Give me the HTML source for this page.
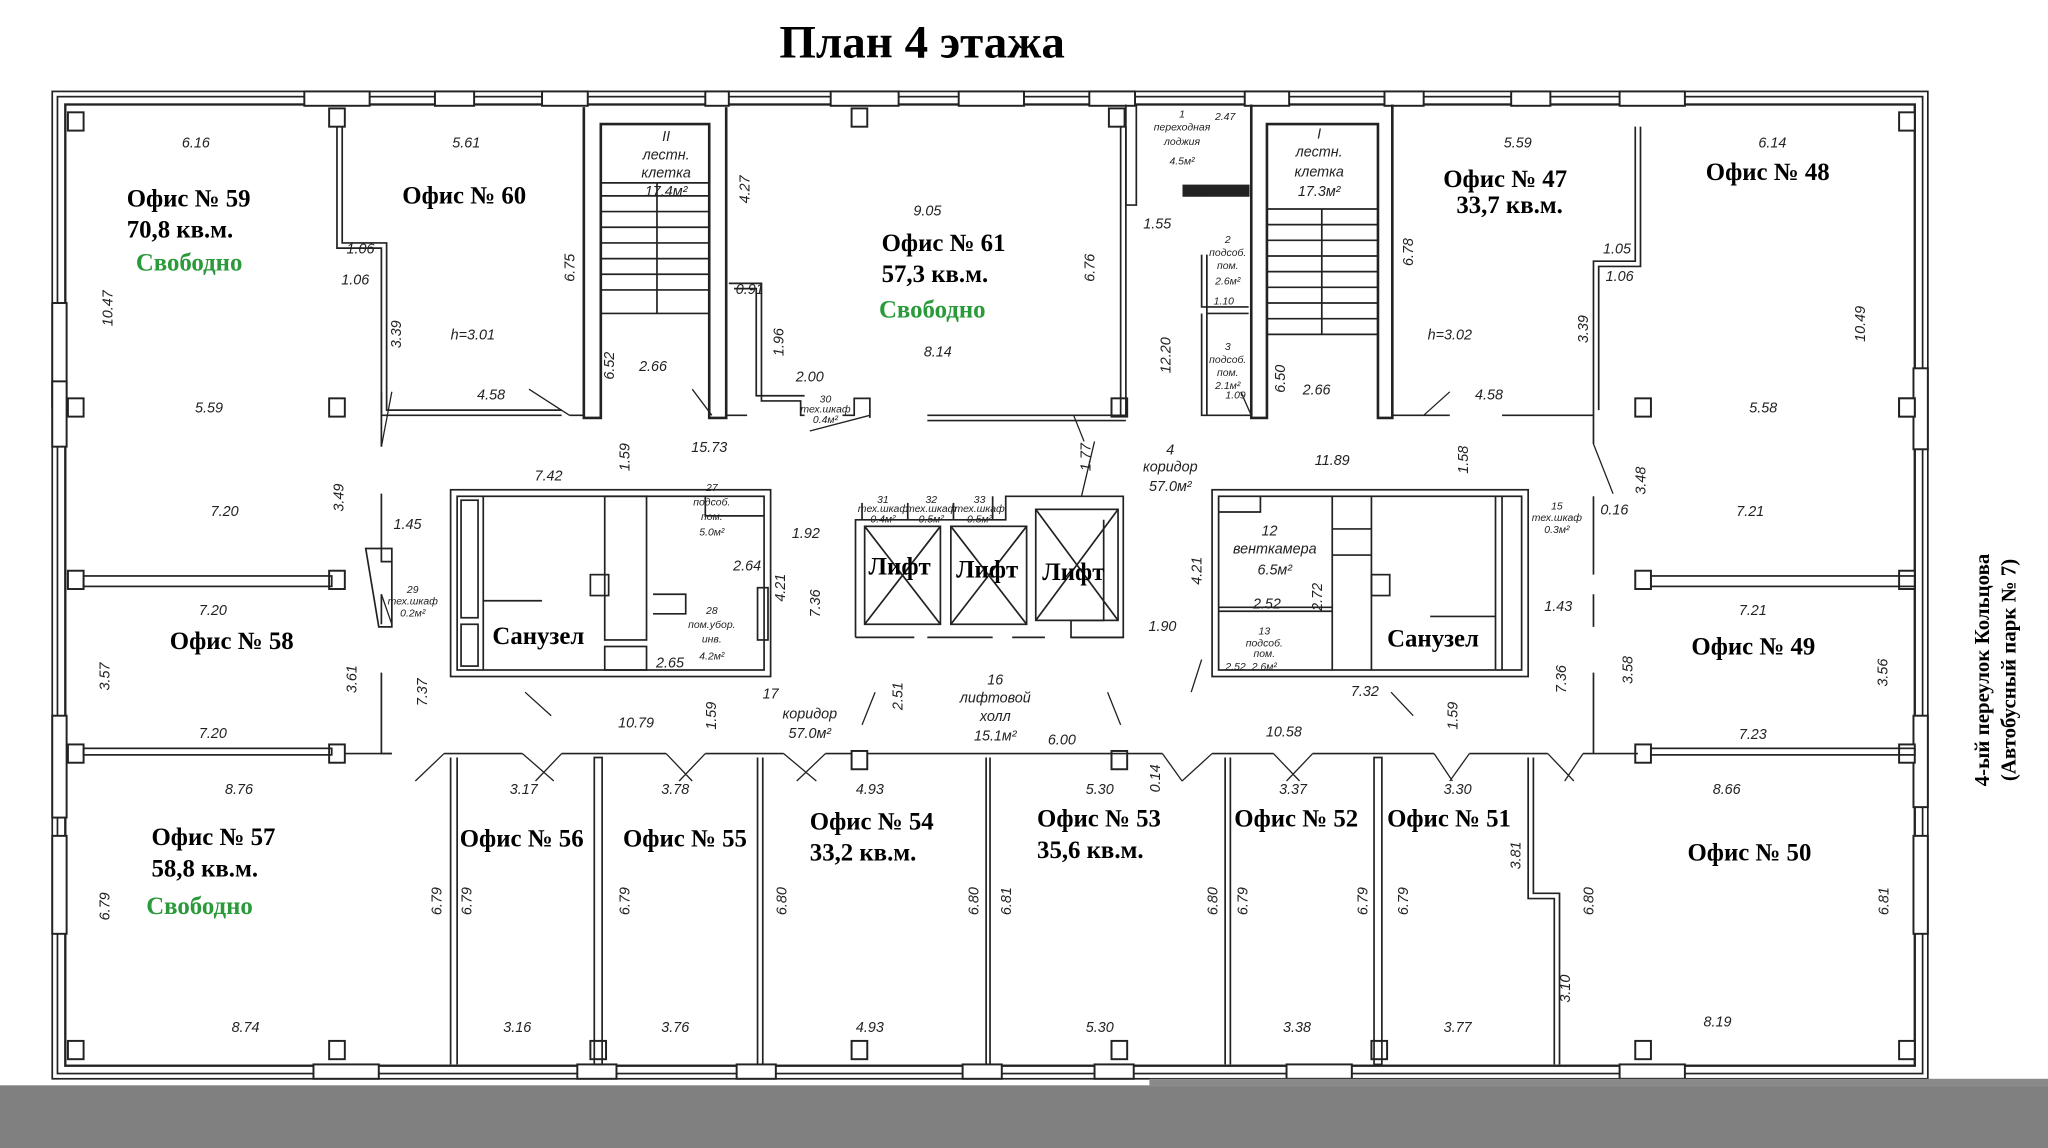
<!DOCTYPE html>
<html><head><meta charset="utf-8"><style>
html,body{margin:0;padding:0;background:#fff;width:2048px;height:1148px;overflow:hidden}
svg{display:block}
.t{font-family:"Liberation Serif","Noto Serif CJK SC",serif;font-weight:bold;fill:#000}
.g{font-family:"Liberation Serif","Noto Serif CJK SC",serif;font-weight:bold;fill:#2a9a3a}
.d{font-family:"Liberation Sans","DejaVu Sans",sans-serif;font-style:italic;fill:#222;font-size:11px}
.s{font-family:"Liberation Sans","DejaVu Sans",sans-serif;font-style:italic;fill:#222;font-size:8px}
</style></head><body>
<svg width="2048" height="1148" viewBox="0 0 1568 879" preserveAspectRatio="none" xmlns="http://www.w3.org/2000/svg">
<rect width="1568" height="879" fill="#fff"/>
<text class="t" x="706" y="44" font-size="36" text-anchor="middle">План 4 этажа</text>
<g fill="none" stroke="#222" stroke-width="1.3">
<!-- outer frame -->
<rect x="40" y="70" width="1436" height="756"/>
<rect x="44" y="74" width="1428" height="748"/>
<rect x="50" y="80" width="1416" height="736" stroke-width="1.8"/>
<!-- window blocks top -->
<g fill="#fff" stroke-width="1.5">
<rect x="233" y="70" width="50" height="11"/><rect x="333" y="70" width="30" height="11"/><rect x="415" y="70" width="35" height="11"/>
<rect x="540" y="70" width="18" height="11"/><rect x="636" y="70" width="52" height="11"/><rect x="734" y="70" width="50" height="11"/><rect x="834" y="70" width="35" height="11"/>
<rect x="953" y="70" width="34" height="11"/><rect x="1060" y="70" width="30" height="11"/><rect x="1157" y="70" width="30" height="11"/><rect x="1240" y="70" width="50" height="11"/>
<rect x="240" y="815" width="50" height="11"/><rect x="442" y="815" width="30" height="11"/><rect x="564" y="815" width="30" height="11"/><rect x="737" y="815" width="30" height="11"/><rect x="838" y="815" width="30" height="11"/><rect x="985" y="815" width="50" height="11"/><rect x="1240" y="815" width="50" height="11"/>
<rect x="40" y="232" width="11" height="80"/><rect x="40" y="548" width="11" height="78"/><rect x="40" y="640" width="11" height="75"/><rect x="40" y="292" width="11" height="50"/>
<rect x="1465" y="282" width="11" height="62"/><rect x="1465" y="548" width="11" height="70"/><rect x="1465" y="640" width="11" height="75"/>
<!-- columns -->
<rect x="52" y="86" width="12" height="14"/><rect x="252" y="83" width="12" height="14"/><rect x="652" y="83" width="12" height="14"/><rect x="1454" y="86" width="12" height="14"/>
<rect x="52" y="305" width="12" height="14"/><rect x="252" y="305" width="12" height="14"/><rect x="1454" y="305" width="12" height="14"/><rect x="1252" y="305" width="12" height="14"/>
<rect x="52" y="437" width="12" height="14"/><rect x="252" y="437" width="12" height="14"/><rect x="1252" y="437" width="12" height="14"/><rect x="1454" y="437" width="12" height="14"/>
<rect x="52" y="570" width="12" height="14"/><rect x="252" y="570" width="12" height="14"/><rect x="652" y="575" width="12" height="14"/><rect x="851" y="575" width="12" height="14"/><rect x="1252" y="570" width="12" height="14"/><rect x="1454" y="570" width="12" height="14"/>
<rect x="52" y="797" width="12" height="14"/><rect x="252" y="797" width="12" height="14"/><rect x="452" y="797" width="12" height="14"/><rect x="652" y="797" width="12" height="14"/><rect x="851" y="797" width="12" height="14"/><rect x="1050" y="797" width="12" height="14"/><rect x="1252" y="797" width="12" height="14"/><rect x="1454" y="797" width="12" height="14"/>
<rect x="851" y="305" width="12" height="14"/><rect x="849" y="83" width="12" height="14"/><rect x="1454" y="305" width="12" height="14"/>
</g>
<!-- left offices -->
<path d="M258 97 V190 H292 V318 H430"/><path d="M262 97 V186 H296 V314 H430"/>
<path d="M292 342 V300"/><path d="M292 378 V430 H300"/><path d="M292 455 V478"/><path d="M292 515 V577 H300"/>
<rect x="64" y="441" width="190" height="8"/><rect x="64" y="573" width="190" height="5"/><path d="M264 577 H300"/>
<path d="M280 420 H300 V480 H290 Z"/>
<!-- stair left -->
<path d="M447 82 V320 H460 V95 H543 V320 H556 V82" stroke-width="2"/>
<path d="M460 140 H543 M460 150 H543 M460 162 H543 M460 174 H543 M460 186 H543 M460 198 H543 M460 210 H543 M460 222 H543 M460 240 H543 M503 140 V240"/>
<path d="M436 318 H447 M556 318 H572"/>
<!-- office 61 -->
<path d="M558 217 H583 V307 H613 V318 H616"/><path d="M562 221 H579 V303 H616"/>
<path d="M645 318 H654 V305 H666 V320"/>
<path d="M710 318 H862 M710 322 H862"/><path d="M858 97 V318 M862 97 V318"/>
<path d="M862 80 V157 H870 V80"/>
<!-- right stair -->
<path d="M958 80 V320 H970 V95 H1055 V320 H1066 V80" stroke-width="2"/>
<path d="M970 160 H1055 M970 172 H1055 M970 184 H1055 M970 196 H1055 M970 208 H1055 M970 220 H1055 M970 232 H1055 M970 244 H1055 M970 256 H1055 M1012 160 V256"/>
<rect x="906" y="142" width="50" height="8" fill="#222"/>
<path d="M920 195 V235 H956 M924 195 V318 M920 240 V318 H958"/><path d="M924 240 H956"/>
<!-- right offices -->
<path d="M1066 318 H1110 M1150 318 H1220 V340"/><path d="M1220 380 V440"/><path d="M1220 455 V480"/><path d="M1220 515 V577"/>
<path d="M1252 97 V200 H1220 V318"/><path d="M1256 97 V204 H1224 V314"/>
<rect x="1264" y="441" width="202" height="8"/><rect x="1264" y="573" width="202" height="5"/><path d="M1212 577 H1254"/>
<!-- bottom wall row -->
<path d="M340 577 H400 M430 577 H510 M540 577 H600 M632 577 H652 M664 577 H890 M928 577 H975 M1005 577 H1098 M1125 577 H1185"/>
<path d="M345 580 V815 M350 580 V815"/><rect x="455" y="580" width="6" height="235"/><path d="M580 580 V815 M584 580 V815"/>
<path d="M755 580 V815 M758 580 V815"/><path d="M938 580 V815 M942 580 V815"/><rect x="1052" y="580" width="6" height="235"/>
<path d="M1170 580 V688 H1190 V815 M1174 580 V684 H1194 V815"/>
<!-- sanuzel left -->
<rect x="345" y="375" width="245" height="143"/><rect x="350" y="380" width="235" height="133"/>
<rect x="353" y="383" width="13" height="90"/><rect x="353" y="478" width="13" height="32"/><path d="M370 380 V513"/><path d="M370 460 H415"/>
<rect x="463" y="380" width="32" height="110"/><rect x="463" y="495" width="32" height="18"/><rect x="452" y="440" width="14" height="16"/>
<path d="M540 380 V395 H585 M500 455 H525 V470 H500"/>
<rect x="580" y="450" width="8" height="40"/>
<!-- lifts -->
<path d="M655 488 V398 H770 V380 H860 V488 H820 V475 H845 V398"/>
<rect x="662" y="403" width="58" height="75"/><rect x="728" y="403" width="58" height="75"/><rect x="793" y="390" width="63" height="85"/>
<path d="M662 403 L720 478 M720 403 L662 478 M728 403 L786 478 M786 403 L728 478 M793 390 L856 475 M856 390 L793 475"/>
<path d="M655 488 H700 M710 488 H760 M775 488 H800 M820 488 H860"/>
<path d="M660 385 V398 M695 385 V398 M730 385 V398 M760 380 V398"/>
<!-- right block -->
<rect x="928" y="375" width="242" height="143"/><rect x="933" y="380" width="232" height="133"/>
<path d="M933 392 H965 V380 M1020 380 V513 M1050 380 V513 M1020 405 H1050 M1020 425 H1050 M1145 380 V513 M1150 380 V513 M1095 472 H1145"/>
<path d="M933 468 H1020 M933 465 H1020"/><rect x="1050" y="440" width="14" height="16"/>
<!-- door swings -->
<path d="M405 298 L436 318 M530 298 L545 318 M620 330 L666 318 M830 338 L822 318 M950 300 L958 318 M1110 300 L1090 318 M1220 340 L1235 378 M292 342 L300 300 M292 455 L300 478 M402 530 L422 548 M828 380 L838 338 M660 555 L670 530 M858 555 L848 530 M912 530 L920 505 M1065 530 L1082 548 M318 598 L340 577 M400 577 L424 598 M430 577 L410 598 M510 577 L530 598 M540 577 L520 598 M600 577 L625 598 M632 577 L610 598 M890 577 L905 598 M928 577 L905 598 M975 577 L995 598 M1005 577 L985 598 M1098 577 L1112 598 M1125 577 L1110 598 M1185 577 L1205 598 M1212 577 L1198 598" stroke-width="1"/>
</g>
<!-- dimensions -->
<g class="d" text-anchor="middle">
<text x="150" y="113">6.16</text><text x="357" y="113">5.61</text><text x="710" y="165">9.05</text><text x="1162" y="113">5.59</text><text x="1357" y="113">6.14</text>
<text x="276" y="194">1.06</text><text x="272" y="218">1.06</text><text x="1238" y="194">1.05</text><text x="1240" y="215">1.06</text>
<text x="362" y="260">h=3.01</text><text x="1110" y="260">h=3.02</text>
<text x="160" y="316">5.59</text><text x="376" y="306">4.58</text><text x="500" y="284">2.66</text><text x="543" y="346">15.73</text><text x="718" y="273">8.14</text>
<text x="620" y="292">2.00</text><text x="574" y="225">0.91</text><text x="1008" y="302">2.66</text><text x="1140" y="306">4.58</text><text x="1350" y="316">5.58</text>
<text x="420" y="368">7.42</text><text x="1020" y="356">11.89</text><text x="886" y="175">1.55</text>
<text x="172" y="395">7.20</text><text x="312" y="405">1.45</text><text x="1340" y="395">7.21</text><text x="1236" y="394">0.16</text>
<text x="617" y="412">1.92</text><text x="572" y="437">2.64</text><text x="970" y="466">2.52</text><text x="890" y="483">1.90</text><text x="1193" y="468">1.43</text>
<text x="163" y="471">7.20</text><text x="1342" y="471">7.21</text><text x="513" y="511">2.65</text><text x="1045" y="533">7.32</text>
<text x="163" y="565">7.20</text><text x="487" y="557">10.79</text><text x="813" y="570">6.00</text><text x="983" y="564">10.58</text><text x="1342" y="566">7.23</text>
<text x="183" y="608">8.76</text><text x="401" y="608">3.17</text><text x="517" y="608">3.78</text><text x="666" y="608">4.93</text><text x="842" y="608">5.30</text><text x="990" y="608">3.37</text><text x="1116" y="608">3.30</text><text x="1322" y="608">8.66</text>
<text x="188" y="790">8.74</text><text x="396" y="790">3.16</text><text x="517" y="790">3.76</text><text x="666" y="790">4.93</text><text x="842" y="790">5.30</text><text x="993" y="790">3.38</text><text x="1116" y="790">3.77</text><text x="1315" y="786">8.19</text>
<text x="590" y="535">17</text><text x="620" y="550">коридор</text><text x="620" y="565">57.0м²</text>
<text x="762" y="524">16</text><text x="762" y="538">лифтовой</text><text x="762" y="552">холл</text><text x="762" y="567">15.1м²</text>
<text x="896" y="348">4</text><text x="896" y="361">коридор</text><text x="896" y="376">57.0м²</text>
<text x="972" y="410">12</text><text x="976" y="424">венткамера</text><text x="976" y="440">6.5м²</text>
<text x="510" y="108">II</text><text x="510" y="122">лестн.</text><text x="510" y="136">клетка</text><text x="510" y="150">17.4м²</text>
<text x="1010" y="106">I</text><text x="1010" y="120">лестн.</text><text x="1010" y="135">клетка</text><text x="1010" y="150">17.3м²</text>
</g>
<g class="s" text-anchor="middle">
<text x="905" y="90">1</text><text x="905" y="100">переходная</text><text x="905" y="111">лоджия</text><text x="905" y="126">4.5м²</text><text x="938" y="92">2.47</text>
<text x="920" y="150">0.40</text><text x="940" y="186">2</text><text x="940" y="196">подсоб.</text><text x="940" y="206">пом.</text><text x="940" y="218">2.6м²</text><text x="937" y="233">1.10</text>
<text x="940" y="268">3</text><text x="940" y="278">подсоб.</text><text x="940" y="288">пом.</text><text x="940" y="298">2.1м²</text><text x="946" y="305">1.09</text>
<text x="545" y="376">27</text><text x="545" y="387">подсоб.</text><text x="545" y="398">пом.</text><text x="545" y="410">5.0м²</text>
<text x="545" y="470">28</text><text x="545" y="481">пом.убор.</text><text x="545" y="492">инв.</text><text x="545" y="505">4.2м²</text>
<text x="316" y="454">29</text><text x="316" y="463">тех.шкаф</text><text x="316" y="472">0.2м²</text>
<text x="1192" y="390">15</text><text x="1192" y="399">тех.шкаф</text><text x="1192" y="408">0.3м²</text>
<text x="632" y="308">30</text><text x="632" y="316">тех.шкаф</text><text x="632" y="324">0.4м²</text>
<text x="676" y="385">31</text><text x="676" y="392">тех.шкаф</text><text x="676" y="400">0.4м²</text>
<text x="713" y="385">32</text><text x="713" y="392">тех.шкаф</text><text x="713" y="400">0.5м²</text>
<text x="750" y="385">33</text><text x="750" y="392">тех.шкаф</text><text x="750" y="400">0.5м²</text>
<text x="968" y="486">13</text><text x="968" y="495">подсоб.</text><text x="968" y="503">пом.</text><text x="968" y="513">2.6м²</text><text x="946" y="513">2.52</text>
</g>
<g class="d" text-anchor="middle">
<text transform="translate(86,236) rotate(-90)">10.47</text><text transform="translate(307,256) rotate(-90)">3.39</text><text transform="translate(440,205) rotate(-90)">6.75</text><text transform="translate(470,280) rotate(-90)">6.52</text>
<text transform="translate(574,145) rotate(-90)">4.27</text><text transform="translate(600,262) rotate(-90)">1.96</text><text transform="translate(838,205) rotate(-90)">6.76</text><text transform="translate(896,272) rotate(-90)">12.20</text>
<text transform="translate(1082,193) rotate(-90)">6.78</text><text transform="translate(984,290) rotate(-90)">6.50</text><text transform="translate(1216,252) rotate(-90)">3.39</text><text transform="translate(1428,248) rotate(-90)">10.49</text>
<text transform="translate(482,350) rotate(-90)">1.59</text><text transform="translate(835,350) rotate(-90)">1.77</text><text transform="translate(1124,352) rotate(-90)">1.58</text><text transform="translate(1260,368) rotate(-90)">3.48</text>
<text transform="translate(263,381) rotate(-90)">3.49</text><text transform="translate(601,450) rotate(-90)">4.21</text><text transform="translate(628,462) rotate(-90)">7.36</text><text transform="translate(920,437) rotate(-90)">4.21</text><text transform="translate(1012,457) rotate(-90)">2.72</text>
<text transform="translate(84,518) rotate(-90)">3.57</text><text transform="translate(273,520) rotate(-90)">3.61</text><text transform="translate(327,530) rotate(-90)">7.37</text><text transform="translate(548,548) rotate(-90)">1.59</text><text transform="translate(691,533) rotate(-90)">2.51</text>
<text transform="translate(1116,548) rotate(-90)">1.59</text><text transform="translate(1199,520) rotate(-90)">7.36</text><text transform="translate(1250,513) rotate(-90)">3.58</text><text transform="translate(1445,515) rotate(-90)">3.56</text>
<text transform="translate(888,596) rotate(-90)">0.14</text><text transform="translate(1164,655) rotate(-90)">3.81</text><text transform="translate(1202,757) rotate(-90)">3.10</text>
<text transform="translate(84,694) rotate(-90)">6.79</text><text transform="translate(338,690) rotate(-90)">6.79</text><text transform="translate(361,690) rotate(-90)">6.79</text><text transform="translate(482,690) rotate(-90)">6.79</text><text transform="translate(602,690) rotate(-90)">6.80</text>
<text transform="translate(749,690) rotate(-90)">6.80</text><text transform="translate(774,690) rotate(-90)">6.81</text><text transform="translate(932,690) rotate(-90)">6.80</text><text transform="translate(955,690) rotate(-90)">6.79</text><text transform="translate(1047,690) rotate(-90)">6.79</text><text transform="translate(1078,690) rotate(-90)">6.79</text><text transform="translate(1220,690) rotate(-90)">6.80</text><text transform="translate(1446,690) rotate(-90)">6.81</text>
</g>
<!-- room labels -->
<g class="t" font-size="19">
<text x="97" y="158">Офис № 59</text><text x="97" y="182">70,8 кв.м.</text>
<text x="308" y="156">Офис № 60</text>
<text x="675" y="192">Офис № 61</text><text x="675" y="216">57,3 кв.м.</text>
<text x="1105" y="143">Офис № 47</text><text x="1115" y="163">33,7 кв.м.</text>
<text x="1306" y="138">Офис № 48</text>
<text x="130" y="497">Офис № 58</text>
<text x="377" y="493">Санузел</text><text x="1062" y="495">Санузел</text>
<text x="665" y="440">Лифт</text><text x="732" y="442">Лифт</text><text x="798" y="444">Лифт</text>
<text x="1295" y="501">Офис № 49</text>
<text x="116" y="647">Офис № 57</text><text x="116" y="671">58,8 кв.м.</text>
<text x="352" y="648">Офис № 56</text><text x="477" y="648">Офис № 55</text>
<text x="620" y="635">Офис № 54</text><text x="620" y="659">33,2 кв.м.</text>
<text x="794" y="633">Офис № 53</text><text x="794" y="657">35,6 кв.м.</text>
<text x="945" y="633">Офис № 52</text><text x="1062" y="633">Офис № 51</text>
<text x="1292" y="659">Офис № 50</text>
</g>
<g class="g" font-size="19">
<text x="104" y="207">Свободно</text><text x="673" y="243">Свободно</text><text x="112" y="700">Свободно</text>
</g>
<g class="t" font-size="16" text-anchor="middle">
<text transform="translate(1523,513) rotate(-90)">4-ый переулок Кольцова</text>
<text transform="translate(1543,513) rotate(-90)">(Автобусный парк № 7)</text>
</g>
<rect x="0" y="831" width="1568" height="48" fill="#808080"/>
<rect x="880" y="826" width="688" height="6" fill="#8a8a8a"/>
</svg>
</body></html>
